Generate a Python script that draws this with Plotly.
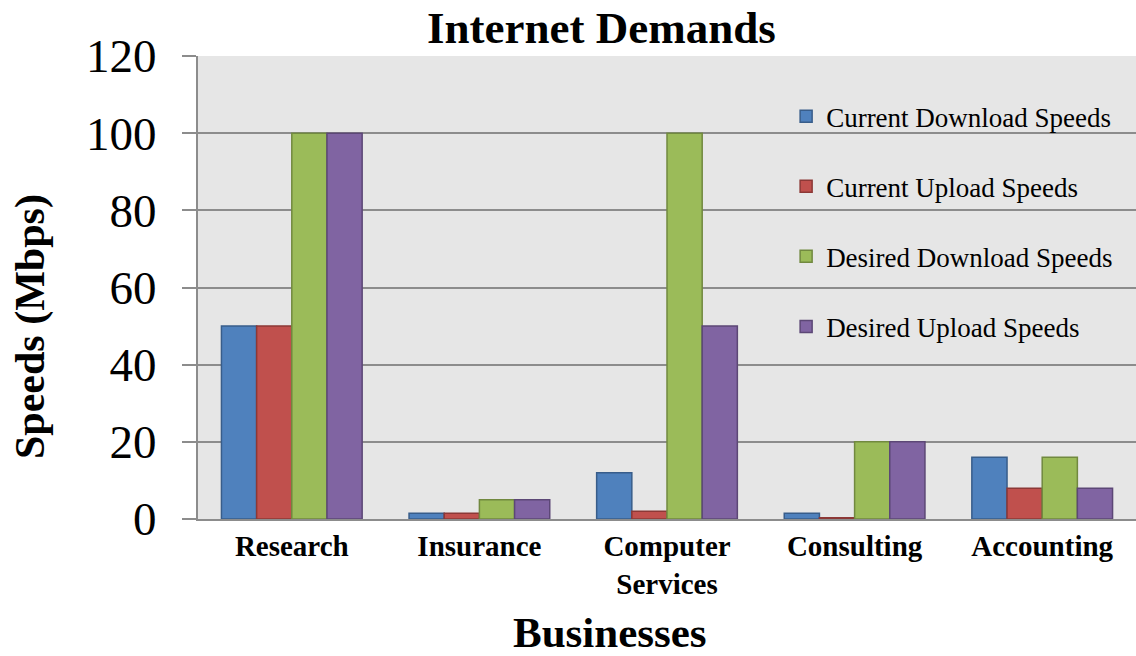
import plotly.graph_objects as go

# Categories and series values (Mbps)
businesses = ["Research", "Insurance", "Computer<br>Services", "Consulting", "Accounting"]
current_download = [50, 1.5, 12, 1.5, 16]
current_upload = [50, 1.5, 2, 0.3, 8]
desired_download = [100, 5, 100, 20, 16]
desired_upload = [100, 5, 50, 20, 8]

series_names = [
    "Current Download Speeds",
    "Current Upload Speeds",
    "Desired Download Speeds",
    "Desired Upload Speeds",
]
y_ticks = [0, 20, 40, 60, 80, 100, 120]

fills = ["#4F81BD", "#C0504D", "#9BBB59", "#8064A2"]
edges = ["#385D8A", "#8C3836", "#71893F", "#5C4776"]

FONT = "Liberation Serif, Times New Roman, serif"
GRID = "#8c8c8c"

fig = go.Figure()
for i, (name, vals) in enumerate(zip(
        series_names,
        [current_download, current_upload, desired_download, desired_upload])):
    fig.add_trace(go.Bar(
        x=businesses, y=vals, name=name, legendgroup=name,
        marker=dict(color=fills[i], line=dict(color=edges[i], width=1.5)),
    ))

fig.update_layout(
    width=1136, height=656,
    margin=dict(l=198, r=0, t=56, b=137),
    paper_bgcolor="white", plot_bgcolor="#e6e6e6",
    barmode="group", bargap=0.25, bargroupgap=0,
    font=dict(family=FONT, color="black"),
    showlegend=True,
    legend=dict(
        x=0.627, y=0.922, xanchor="left", yanchor="top",
        bgcolor="rgba(0,0,0,0)", font=dict(family=FONT, size=27),
        tracegroupgap=32, traceorder="grouped",
    ),
    xaxis=dict(
        showline=True, linecolor=GRID, linewidth=2,
        ticks="", showgrid=False,
        tickfont=dict(family=FONT, size=29, color="black", weight="bold"),
    ),
    yaxis=dict(
        range=[0, 120], tickvals=y_ticks,
        showgrid=True, gridcolor=GRID, gridwidth=2,
        zeroline=False,
        showline=True, linecolor=GRID, linewidth=2,
        ticks="outside", ticklen=14, tickcolor=GRID, tickwidth=2,
        ticklabelstandoff=16,
        tickfont=dict(family=FONT, size=47, color="black"),
    ),
    annotations=[
        dict(text="<b>Internet Demands</b>", xref="paper", yref="paper",
             x=(601 - 198) / 938, y=1, yshift=28, xanchor="center", yanchor="middle",
             showarrow=False, font=dict(family=FONT, size=45, color="black")),
        dict(text="<b>Businesses</b>", xref="paper", yref="paper",
             x=(610 - 198) / 938, y=0, yshift=-113, xanchor="center", yanchor="middle",
             showarrow=False, font=dict(family=FONT, size=43, color="black")),
        dict(text="<b>Speeds (Mbps)</b>", xref="paper", yref="paper",
             x=0, xshift=-168, y=(519 - 327) / 463, textangle=-90,
             xanchor="center", yanchor="middle",
             showarrow=False, font=dict(family=FONT, size=42, color="black")),
    ],
)

fig.write_html("out.html")
